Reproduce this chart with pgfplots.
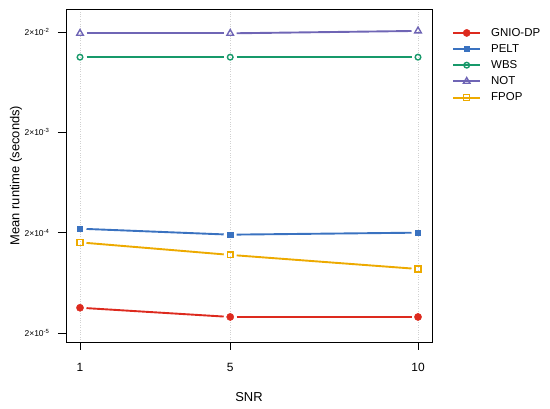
\documentclass[border=0pt]{standalone}
\usepackage{pgfplots}
\pgfplotsset{compat=1.18}
\usepackage{fontspec}
\setmainfont{Liberation Sans}
\definecolor{cred}{HTML}{DD2A1E}
\definecolor{cblue}{HTML}{3A72C0}
\definecolor{cgreen}{HTML}{17996A}
\definecolor{cpurple}{HTML}{6F65B5}
\definecolor{cyellow}{HTML}{EDAA00}
\begin{document}
\begin{tikzpicture}
\path[use as bounding box] (-66bp,-67bp) rectangle (484bp,342bp);
\begin{axis}[
  at={(0,0)}, anchor=south west, scale only axis,
  width=366bp, height=333bp,
  xmin=0.627, xmax=10.373,
  ymode=log, ymin=1.626e-5, ymax=0.0339,
  xtick={1,5,10}, xticklabels={1,5,10},
  ytick={2e-5,2e-4,2e-3,2e-2},
  yticklabels={2×10\textsuperscript{-5},2×10\textsuperscript{-4},2×10\textsuperscript{-3},2×10\textsuperscript{-2}},
  minor ytick={}, log basis y=10,
  xtick pos=left, ytick pos=left,
  tick align=outside, major tick length=8bp,
  tick style={black, line width=0.8bp},
  axis line style={line width=0.9bp},
  xmajorgrids, grid style={dotted, black!18, line width=0.5bp},
  xticklabel style={font=\fontsize{12}{14}\selectfont, yshift=-10bp},
  yticklabel style={font=\fontsize{8.5}{10}\selectfont, xshift=-5bp},
  every axis x label/.style={at={(rel axis cs:0.5,0)}, anchor=center, yshift=-55bp, font=\fontsize{13}{15}\selectfont},
  every axis y label/.style={at={(rel axis cs:0,0.5)}, anchor=center, rotate=90, yshift=50bp, font=\fontsize{13}{15}\selectfont},
  xlabel={SNR}, ylabel={Mean runtime (seconds)},
  legend style={at={(rel axis cs:1,1)}, anchor=north west, xshift=20bp, yshift=-17bp,
    draw=none, fill=none, inner sep=0pt, row sep=2.7bp,
    font=\fontsize{11.5}{13}\selectfont,
    /tikz/every odd column/.style={column sep=8bp}},
  legend cell align=left,
  legend image code/.code={
    \draw[#1, line width=2bp, mark=none] (0bp,0bp) -- (27bp,0bp);
    \draw[#1, only marks] plot coordinates {(13.5bp,0bp)};},
]
% GNIO-DP
\addplot[cred, line width=1.9bp, shorten <=6.5bp, shorten >=6.5bp, forget plot] coordinates {(1,3.57e-5) (5,2.89e-5)};
\addplot[cred, line width=2bp, shorten <=6.5bp, shorten >=6.5bp, forget plot] coordinates {(5,2.89e-5) (10,2.89e-5)};
\addplot[cred, only marks, mark=*, mark size=3.6bp, forget plot] coordinates {(1,3.57e-5) (5,2.89e-5) (10,2.89e-5)};
% PELT
\addplot[cblue, line width=1.9bp, shorten <=6.5bp, shorten >=6.5bp, forget plot] coordinates {(1,2.19e-4) (5,1.91e-4)};
\addplot[cblue, line width=1.9bp, shorten <=6.5bp, shorten >=6.5bp, forget plot] coordinates {(5,1.91e-4) (10,2.0e-4)};
\addplot[cblue, only marks, mark=square*, mark size=2.6bp, forget plot] coordinates {(1,2.19e-4) (5,1.91e-4) (10,2.0e-4)};
% WBS
\addplot[cgreen, line width=2bp, shorten <=6.5bp, shorten >=6.5bp, forget plot] coordinates {(1,0.01122) (5,0.01122)};
\addplot[cgreen, line width=2bp, shorten <=6.5bp, shorten >=6.5bp, forget plot] coordinates {(5,0.01122) (10,0.01122)};
\addplot[cgreen, only marks, mark=o, mark size=2.8bp, line width=1.4bp, forget plot] coordinates {(1,0.01122) (5,0.01122) (10,0.01122)};
% NOT
\addplot[cpurple, line width=2bp, shorten <=6.5bp, shorten >=6.5bp, forget plot] coordinates {(1,0.0194) (5,0.0194)};
\addplot[cpurple, line width=1.9bp, shorten <=6.5bp, shorten >=6.5bp, forget plot] coordinates {(5,0.0194) (10,0.0205)};
\addplot[cpurple, only marks, mark=triangle, mark size=3.8bp, line width=1.4bp, forget plot] coordinates {(1,0.0194) (5,0.0194) (10,0.0205)};
% FPOP
\addplot[cyellow, line width=1.9bp, shorten <=6.5bp, shorten >=6.5bp, forget plot] coordinates {(1,1.60e-4) (5,1.20e-4)};
\addplot[cyellow, line width=1.9bp, shorten <=6.5bp, shorten >=6.5bp, forget plot] coordinates {(5,1.20e-4) (10,8.69e-5)};
\addplot[cyellow, only marks, mark=square, mark size=2.9bp, line width=1.3bp, forget plot] coordinates {(1,1.60e-4) (5,1.20e-4) (10,8.69e-5)};
% legend
\addlegendimage{cred, mark=*, mark size=3.6bp}
\addlegendentry{GNIO-DP}
\addlegendimage{cblue, mark=square*, mark size=2.6bp}
\addlegendentry{PELT}
\addlegendimage{cgreen, mark=o, mark size=2.8bp, mark options={line width=1.4bp}}
\addlegendentry{WBS}
\addlegendimage{cpurple, mark=triangle, mark size=3.8bp, mark options={line width=1.4bp}}
\addlegendentry{NOT}
\addlegendimage{cyellow, mark=square, mark size=2.9bp, mark options={line width=1.3bp}}
\addlegendentry{FPOP}
\end{axis}
\end{tikzpicture}
\end{document}
